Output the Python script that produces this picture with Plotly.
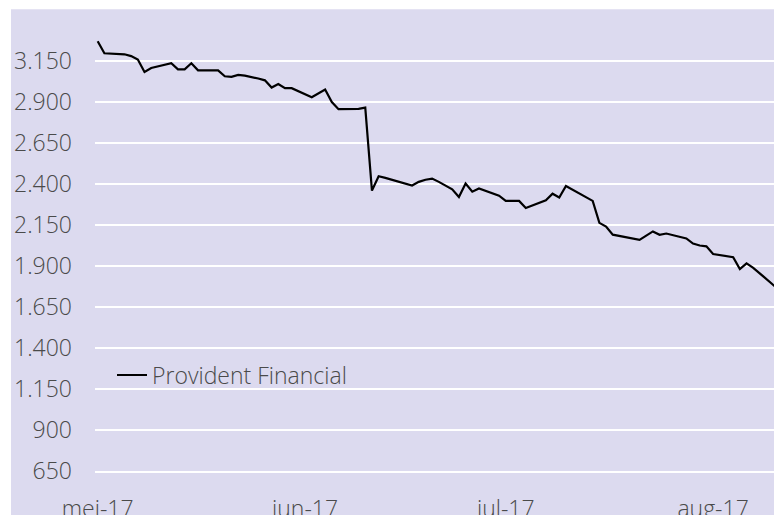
import plotly.graph_objects as go
import pandas as pd

# Provident Financial share price (pence)
day_offsets = [0, 1, 4, 5, 6, 7, 8, 11, 12, 13, 14, 15, 18, 19, 20, 21, 22, 23, 24, 25,
               26, 27, 28, 29, 30, 32, 34, 35, 36, 39, 40, 41, 42, 43, 47, 48, 49, 50, 51, 53,
               54, 55, 56, 57, 60, 61, 63, 64, 67, 68, 69, 70, 74, 75, 76, 77, 81, 83, 84, 85,
               88, 89, 90, 91, 92, 95, 96, 97, 98, 102, 103]
prices = [3270, 3197, 3191, 3180, 3159, 3083, 3107, 3136, 3099, 3099, 3136, 3093, 3093, 3057, 3053, 3065, 3061, 3053, 3043, 3032,
          2988, 3010, 2984, 2984, 2965, 2929, 2976, 2900, 2856, 2858, 2866, 2360, 2447, 2437, 2391, 2413, 2426, 2433, 2413, 2368,
          2321, 2403, 2353, 2373, 2329, 2297, 2297, 2254, 2301, 2341, 2318, 2388, 2297, 2163, 2140, 2091, 2059, 2111, 2090, 2098,
          2068, 2037, 2025, 2020, 1973, 1954, 1881, 1916, 1889, 1749, 1050]
start_date = "2017-05-01"
series_name = "Provident Financial"

x_tick_dates = ["2017-05-01", "2017-06-01", "2017-07-01", "2017-08-01"]
x_tick_labels = ["mei-17", "jun-17", "jul-17", "aug-17"]
y_tick_vals = [650, 900, 1150, 1400, 1650, 1900, 2150, 2400, 2650, 2900, 3150]
y_tick_labels = ["650", "900", "1.150", "1.400", "1.650", "1.900", "2.150", "2.400", "2.650", "2.900", "3.150"]

dates = pd.Timestamp(start_date) + pd.to_timedelta(day_offsets, unit="D")

BG = "#DCDAEF"
TXT = "#4a4a4a"
FONT = "Open Sans"
tfont = dict(family=FONT, size=23, color=TXT, weight=300)

fig = go.Figure()
fig.add_trace(go.Scatter(x=dates, y=prices, mode="lines", name=series_name,
                         line=dict(color="#000000", width=2.2)))

W, H = 782, 515
ml, mr, mt, mb = 87, 8, 11.7, 52
pw, ph = W - ml - mr, H - mt - mb

fig.add_shape(type="rect", xref="paper", yref="paper",
              x0=(3 - ml) / pw, x1=1 + (mr + 2) / pw, y0=-mb / ph - 0.01, y1=(H - mb - 1) / ph,
              fillcolor=BG, line=dict(width=0), layer="below")

fig.update_layout(
    width=W, height=H,
    margin=dict(l=ml, r=mr, t=mt, b=mb, autoexpand=False),
    paper_bgcolor="white", plot_bgcolor=BG,
    font=tfont,
    showlegend=True,
    legend=dict(x=(104 - ml) / pw, y=(H - mb - 367) / ph, xanchor="left", yanchor="middle",
                bgcolor="rgba(0,0,0,0)", font=tfont),
    xaxis=dict(type="date", automargin=False,
               range=[pd.Timestamp("2017-04-30 14:20"), pd.Timestamp("2017-08-11 07:12")],
               tickvals=x_tick_dates, ticktext=x_tick_labels,
               showgrid=False, zeroline=False, showline=True, linecolor="white", linewidth=2,
               ticks="", ticklabelstandoff=16, tickfont=tfont),
    yaxis=dict(range=[650, 3400], tickvals=y_tick_vals, ticktext=y_tick_labels, automargin=False,
               showgrid=True, gridcolor="white", gridwidth=2, zeroline=False, showline=False,
               ticks="", ticklabelstandoff=22, tickfont=tfont),
)

fig.write_html("out.html")
